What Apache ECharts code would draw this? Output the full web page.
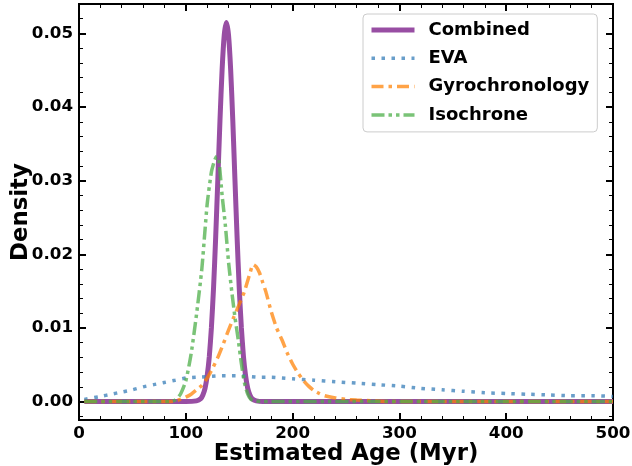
<!DOCTYPE html>
<html>
<head>
<meta charset="utf-8">
<script src="https://cdn.jsdelivr.net/npm/echarts@6/dist/echarts.min.js"></script>
<style>
html,body{margin:0;padding:0;background:#fff;}
#chart{width:632px;height:466px;}
</style>
</head>
<body>
<div id="chart"></div>
<script>
// ---- Data ----
var seriesNames = ['Combined', 'EVA', 'Gyrochronology', 'Isochrone'];

var combinedAge = [5, 100, 110, 114, 116, 118, 120, 122, 124, 126, 128, 130, 132, 134, 136, 138, 140, 142, 144, 146, 148, 150, 152, 154, 156, 158, 160, 162, 166, 172, 500];
var combinedDensity = [0, 0, 0.0001, 0.0004, 0.0009, 0.0018, 0.0035, 0.0061, 0.0101, 0.0155, 0.0224, 0.0302, 0.0382, 0.0451, 0.0498, 0.0515, 0.0498, 0.0451, 0.0382, 0.0302, 0.0224, 0.0155, 0.0101, 0.0061, 0.0035, 0.0018, 0.0009, 0.0004, 0.0001, 0, 0];

var evaAge = [5, 20, 30, 40, 50, 60, 70, 80, 90, 100, 110, 120, 130, 140, 150, 160, 170, 180, 190, 200, 220, 240, 260, 280, 300, 320, 340, 360, 380, 400, 420, 440, 460, 480, 500];
var evaDensity = [0.0003, 0.0007, 0.0010, 0.0013, 0.0016, 0.0020, 0.0023, 0.0026, 0.0029, 0.0032, 0.0033, 0.0034, 0.0035, 0.0035, 0.0035, 0.0034, 0.0033, 0.0033, 0.0032, 0.0031, 0.0029, 0.0027, 0.0025, 0.0023, 0.0021, 0.0018, 0.0016, 0.0014, 0.0012, 0.0011, 0.0010, 0.0009, 0.0008, 0.0008, 0.0007];

var gyroAge = [5, 85, 90, 95, 100, 105, 110, 115, 120, 125, 130, 135, 140, 145, 150, 155, 160, 163, 166, 169, 172, 175, 180, 185, 190, 195, 200, 205, 210, 215, 220, 225, 230, 240, 250, 260, 275, 290, 500];
var gyroDensity = [0, 0, 0.0001, 0.0003, 0.0006, 0.0010, 0.0016, 0.0022, 0.0032, 0.0045, 0.0060, 0.0078, 0.0097, 0.0115, 0.0132, 0.0150, 0.0174, 0.0186, 0.0183, 0.0175, 0.0162, 0.0149, 0.0122, 0.0100, 0.0084, 0.0066, 0.0051, 0.0039, 0.0029, 0.0021, 0.0015, 0.0011, 0.0008, 0.0005, 0.0003, 0.0002, 0.0001, 0, 0];

var isoAge = [5, 85, 90, 95, 100, 105, 110, 115, 120, 124, 127, 129, 131, 134, 137, 140, 143, 146, 149, 152, 155, 158, 161, 165, 170, 500];
var isoDensity = [0, 0, 0.0002, 0.0010, 0.0028, 0.0065, 0.0118, 0.0180, 0.0268, 0.0312, 0.0328, 0.0333, 0.0327, 0.0280, 0.0240, 0.0190, 0.0150, 0.0115, 0.0085, 0.0052, 0.0025, 0.0010, 0.0003, 0.0001, 0, 0];

var xTicks = [0, 100, 200, 300, 400, 500];
var yTicks = [0, 0.01, 0.02, 0.03, 0.04, 0.05];
var yMinorTicks = [-0.002, 0.002, 0.004, 0.006, 0.008, 0.012, 0.014, 0.016, 0.018, 0.022, 0.024, 0.026, 0.028, 0.032, 0.034, 0.036, 0.038, 0.042, 0.044, 0.046, 0.048, 0.052];

function pairs(xs, ys) {
  var out = [];
  for (var i = 0; i < xs.length; i++) out.push([xs[i], ys[i]]);
  return out;
}

var FONT = 'DejaVu Sans';
var lineBlack = { color: '#000', width: 2 };

function yAx(position, values, tickLen, tickW, withLabel) {
  return {
    type: 'value', position: position, min: -0.0025, max: 0.054,
    axisLine: { show: true, onZero: false, lineStyle: lineBlack },
    axisTick: { show: true, inside: true, length: tickLen, customValues: values, lineStyle: { color: '#000', width: tickW } },
    axisLabel: withLabel ? {
      show: true, customValues: yTicks, margin: 6,
      formatter: function (v) { return v.toFixed(2); },
      fontFamily: FONT, fontWeight: 'bold', fontSize: 16.7, color: '#000'
    } : { show: false },
    splitLine: { show: false }
  };
}

function xAx(position, withLabel) {
  var ax = {
    type: 'value', position: position, min: 0, max: 500, interval: 100,
    axisLine: { show: true, onZero: false, lineStyle: lineBlack },
    axisTick: { show: true, inside: true, length: 7, customValues: xTicks, lineStyle: { color: '#000', width: 2 } },
    minorTick: { show: true, splitNumber: 5, length: 4, lineStyle: { color: '#000', width: 1 } },
    axisLabel: withLabel ? { show: true, customValues: xTicks, margin: 5, fontFamily: FONT, fontWeight: 'bold', fontSize: 16.7, color: '#000' } : { show: false },
    splitLine: { show: false }
  };
  return ax;
}

var xMain = xAx('bottom', true);
xMain.name = 'Estimated Age (Myr)';
xMain.nameLocation = 'middle';
xMain.nameGap = 23;
xMain.nameMoveOverlap = false;
xMain.nameTextStyle = { fontFamily: FONT, fontWeight: 'bold', fontSize: 22.8, color: '#000' };

var yMain = yAx('left', yTicks, 7, 2, true);
yMain.name = 'Density';
yMain.nameLocation = 'middle';
yMain.nameGap = 46;
yMain.nameMoveOverlap = false;
yMain.nameTextStyle = { fontFamily: FONT, fontWeight: 'bold', fontSize: 22.8, color: '#000' };

var option = {
  animation: false,
  backgroundColor: '#fff',
  grid: { left: 79, right: 19, top: 4, bottom: 46, containLabel: false, outerBoundsMode: 'none' },
  legend: {
    orient: 'vertical', left: 363, top: 14,
    padding: [6, 8, 7, 6],
    itemWidth: 43, itemHeight: 14, itemGap: 8.3,
    backgroundColor: 'rgba(255,255,255,0.8)',
    borderColor: '#cccccc', borderWidth: 1, borderRadius: 4,
    itemStyle: { opacity: 0, color: 'rgba(0,0,0,0)', borderWidth: 0 },
    lineStyle: { width: 'inherit' },
    textStyle: { fontFamily: FONT, fontWeight: 'bold', fontSize: 18, color: '#000', lineHeight: 20, padding: [0, 0, 0, 9] },
    data: seriesNames
  },
  xAxis: [xMain, xAx('top', false)],
  yAxis: [
    yMain,
    yAx('left', yMinorTicks, 4, 1, false),
    yAx('right', yTicks, 7, 2, false),
    yAx('right', yMinorTicks, 4, 1, false)
  ],
  series: [
    {
      name: 'Combined', type: 'line', xAxisIndex: 0, yAxisIndex: 0,
      data: pairs(combinedAge, combinedDensity),
      symbol: 'none', showSymbol: false, smooth: 0.2,
      color: '#984ea3',
      lineStyle: { color: '#984ea3', width: 5, type: 'solid' }
    },
    {
      name: 'EVA', type: 'line', xAxisIndex: 0, yAxisIndex: 0,
      data: pairs(evaAge, evaDensity),
      symbol: 'none', showSymbol: false, smooth: 0.2,
      color: 'rgba(55,126,184,0.75)',
      lineStyle: { color: 'rgba(55,126,184,0.75)', width: 3.5, type: [3.5, 6.5] }
    },
    {
      name: 'Gyrochronology', type: 'line', xAxisIndex: 0, yAxisIndex: 0,
      data: pairs(gyroAge, gyroDensity),
      symbol: 'none', showSymbol: false, smooth: 0.2,
      color: 'rgba(255,127,0,0.72)',
      lineStyle: { color: 'rgba(255,127,0,0.72)', width: 3.5, type: [12, 5, 3.5, 5] }
    },
    {
      name: 'Isochrone', type: 'line', xAxisIndex: 0, yAxisIndex: 0,
      data: pairs(isoAge, isoDensity),
      symbol: 'none', showSymbol: false, smooth: 0.2,
      color: 'rgba(77,175,74,0.75)',
      lineStyle: { color: 'rgba(77,175,74,0.75)', width: 3.5, type: [13, 4, 3.5, 4, 3.5, 4] }
    }
  ]
};

var chart = echarts.init(document.getElementById('chart'), null, { renderer: 'canvas' });
chart.setOption(option);
</script>
</body>
</html>
